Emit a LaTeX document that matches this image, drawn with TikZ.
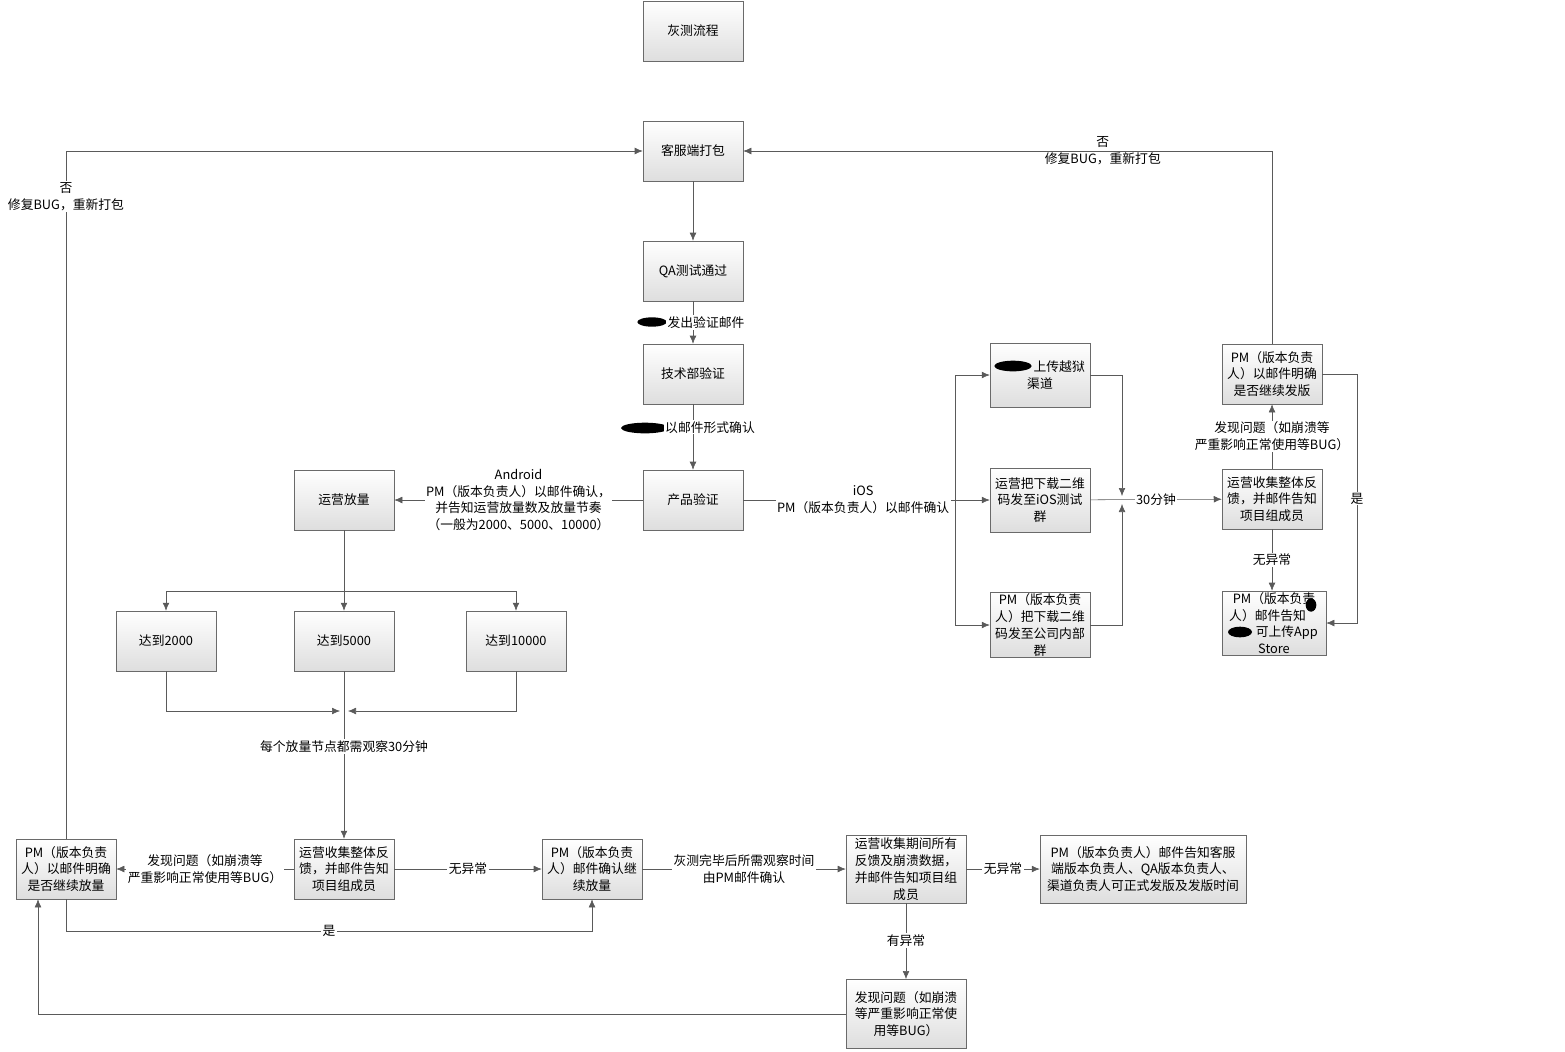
\documentclass[tikz,border=0pt]{standalone}
\usepackage{fontspec}
\setmainfont{Noto Sans CJK SC}
\usetikzlibrary{arrows.meta,positioning,calc}
\definecolor{lineg}{HTML}{5A5A5A}
\definecolor{boxg}{HTML}{6A6A6A}

\tikzset{
  proc/.style={draw=boxg, top color=white, bottom color=black!13, minimum width=75pt, minimum height=45pt, align=center, inner sep=0.5pt},
  flow/.style={draw=lineg, -{Latex[length=6pt,width=5pt]}},
  lab/.style={fill=white, align=center, inner sep=1pt},
}

\begin{document}
\begin{tikzpicture}[x=0.75pt, y=-0.75pt, font=\fontsize{9.6}{12.6}\selectfont]
  \useasboundingbox (0,0) rectangle (1565,1051);
  \fill[white] (0,0) rectangle (1565,1051);

  % main column
  \node[proc] (title) at (693,31) {灰测流程};
  \node[proc] (pack) at (693,151) {客服端打包};
  \node[proc] (qa) at (693,271) {QA测试通过};
  \node[proc] (tech) at (693,374) {技术部验证};
  \node[proc] (prod) at (693,500) {产品验证};

  % android side
  \node[proc] (ops) at (344,500) {运营放量};
  \node[proc] (r2k) at (166,641) {达到2000};
  \node[proc] (r5k) at (344,641) {达到5000};
  \node[proc] (r10k) at (516,641) {达到10000};
  \node[proc] (pmgo) at (66,869) {PM（版本负责\\人）以邮件明确\\是否继续放量};
  \node[proc] (opsfb) at (344,869) {运营收集整体反\\馈，并邮件告知\\项目组成员};
  \node[proc] (pmok) at (592,869) {PM（版本负责\\人）邮件确认继\\续放量};
  \node[proc, minimum width=90pt, minimum height=51pt] (opsall) at (906,869) {运营收集期间所有\\反馈及崩溃数据，\\并邮件告知项目组\\成员};
  \node[proc, minimum width=154.5pt, minimum height=51pt] (pmrel) at (1143,869) {PM（版本负责人）邮件告知客服\\端版本负责人、QA版本负责人、\\渠道负责人可正式发版及发版时间};
  \node[proc, minimum width=90pt, minimum height=52pt] (bug) at (906,1014) {发现问题（如崩溃\\等严重影响正常使\\用等BUG）};

  % ios side
  \node[proc, minimum height=48pt] (jail) at (1040,375) {\hphantom{人人人}上传越狱\\渠道};
  \node[proc, minimum height=48pt] (qrios) at (1040,500) {运营把下载二维\\码发至iOS测试\\群};
  \node[proc, minimum height=49pt] (qrpm) at (1040,625) {PM（版本负责\\人）把下载二维\\码发至公司内部\\群};
  \node[proc] (opsfb2) at (1272,499) {运营收集整体反\\馈，并邮件告知\\项目组成员};
  \node[proc] (pmship) at (1272,374) {PM（版本负责\\人）以邮件明确\\是否继续发版};
  \node[proc, minimum width=78pt, minimum height=48pt] (pmstore) at (1274,623) {PM（版本负责\\人）邮件告知\hphantom{王}\\\hphantom{某某}可上传App\\Store};

  % redacted names
  \fill (652,322) ellipse [x radius=11pt, y radius=3.5pt];
  \fill (645,428) ellipse [x radius=18pt, y radius=4pt];
  \fill (1013,366) ellipse [x radius=14pt, y radius=4pt];
  \fill (1311,605) ellipse [x radius=4pt, y radius=5pt];
  \fill (1240,632) ellipse [x radius=9pt, y radius=4pt];

  \coordinate (iosx) at (955,500);
  \coordinate (mrgtop) at (1122,496);
  \coordinate (mrgbot) at (1122,504);
  \coordinate (shipr) at (1357,0);
  \coordinate (split) at (344,591);
  \coordinate (join) at (344,711);
  \coordinate (yesrow) at (0,931);
  \coordinate (bugx) at (38,0);

  % connectors
  \draw[flow] (pack) -- (qa);
  \draw[flow] (qa) -- (tech) node[midway, lab, xshift=9.75pt] {发出验证邮件};
  \draw[flow] (tech) -- (prod) node[pos=.35, lab, xshift=12.75pt] {以邮件形式确认};
  \draw[flow] (prod) -- (ops) node[midway, lab] {Android\\PM（版本负责人）以邮件确认，\\并告知运营放量数及放量节奏\\（一般为2000、5000、10000）};
  \draw[draw=lineg] (prod) -- (iosx) node[pos=.566, lab] {iOS\\PM（版本负责人）以邮件确认};
  \draw[flow] (iosx) |- (jail);
  \draw[flow] (iosx) -- (qrios);
  \draw[flow] (iosx) |- (qrpm);
  \draw[flow] (jail.east) -| (mrgtop);
  \draw[flow] (qrpm.east) -| (mrgbot);
  \draw[flow] (qrios) -- (opsfb2) node[midway, lab] {30分钟};
  \draw[flow] (opsfb2) -- (pmship) node[midway, lab] {发现问题（如崩溃等\\严重影响正常使用等BUG）};
  \draw[flow] (opsfb2.south) -- (opsfb2.south |- pmstore.north) node[midway, lab] {无异常};
  \draw[flow] (pmship.east) -- (pmship.east -| shipr) -- node[lab] {是} (pmstore.east -| shipr) -- (pmstore.east);
  \draw[flow] (pmship.north) |- (pack.east) node[pos=.66, align=center, inner sep=1pt] {否\\修复BUG，重新打包};
  \draw[flow] (pmgo.north) |- (pack.west) node[pos=.467, lab] {否\\修复BUG，重新打包};

  \draw[draw=lineg] (ops) -- (split);
  \draw[flow] (split) -| (r2k);
  \draw[flow] (split) -- (r5k);
  \draw[flow] (split) -| (r10k);
  \draw[flow] (r2k.south) |- ($(join)+(-4,0)$);
  \draw[flow] (r10k.south) |- ($(join)+(4,0)$);
  \draw[flow] (r5k) -- (opsfb) node[pos=.45, lab] {每个放量节点都需观察30分钟};

  \draw[flow] (opsfb) -- (pmgo) node[midway, lab] {发现问题（如崩溃等\\严重影响正常使用等BUG）};
  \draw[flow] (opsfb) -- (pmok) node[midway, lab] {无异常};
  \draw[flow] (pmgo.south) -- (pmgo.south |- yesrow) -- node[lab] {是} (pmok.south |- yesrow) -- (pmok.south);
  \draw[flow] (pmok) -- (opsall) node[midway, lab] {灰测完毕后所需观察时间\\由PM邮件确认};
  \draw[flow] (opsall) -- (pmrel) node[midway, lab] {无异常};
  \draw[flow] (opsall) -- (bug) node[pos=.49, lab] {有异常};
  \draw[flow] (bug.west) -| (bugx |- pmgo.south);
\end{tikzpicture}
\end{document}
